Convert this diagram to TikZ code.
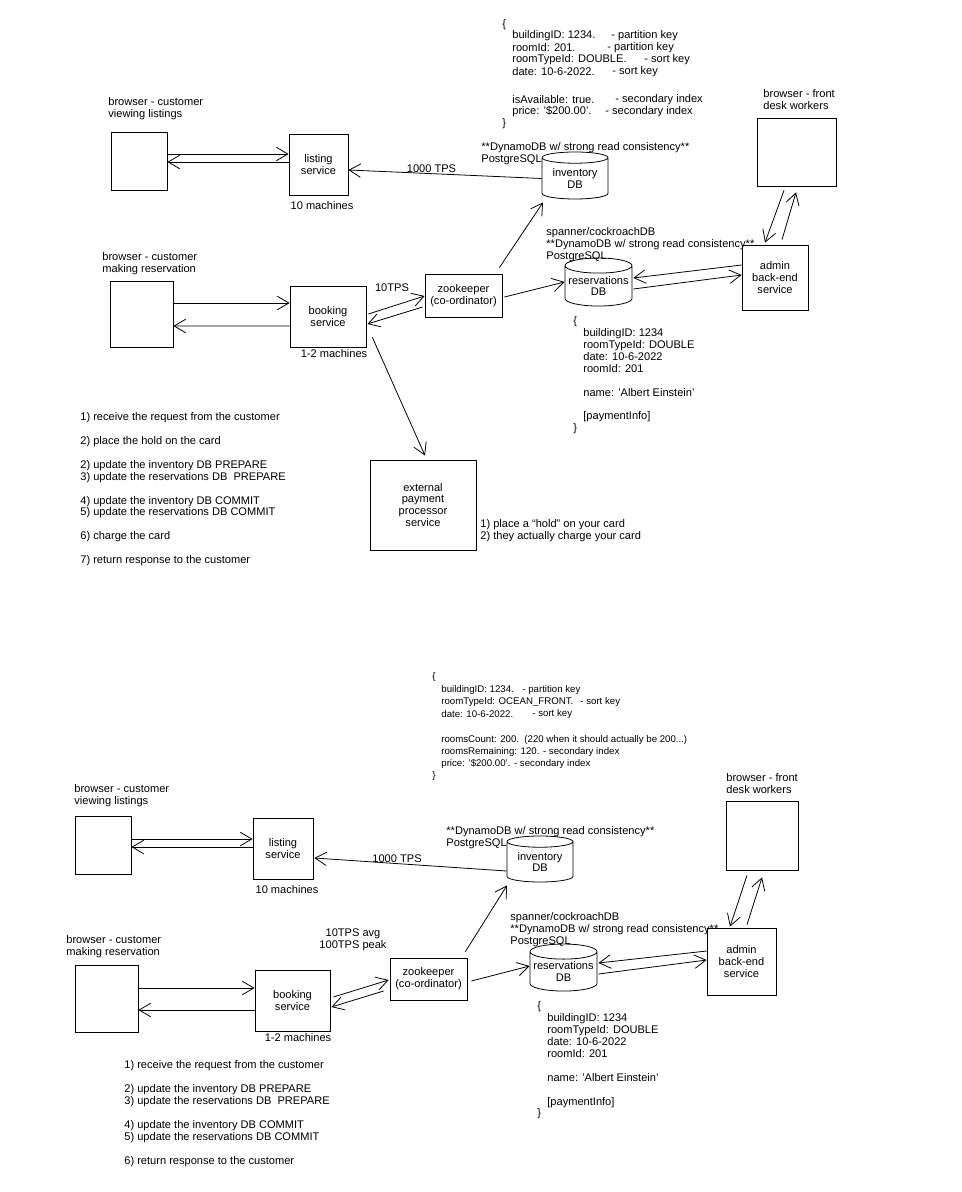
\documentclass[tikz,border=0pt]{standalone}
\usepackage{fontspec}
\setmainfont{Liberation Sans}
\usetikzlibrary{arrows.meta,shapes.geometric}
\begin{document}
\begin{tikzpicture}[x=0.02cm, y=-0.02cm, line width=0.45pt,
		font=\fontsize{6.3}{6.8}\selectfont,
		sz/.style 2 args={minimum width=#1*0.02cm, minimum height=#2*0.02cm},
		box/.style={draw, align=center, inner sep=0pt},
		db/.style={draw, cylinder, shape border rotate=90, aspect=0.25, align=center, inner sep=0pt},
		txt/.style={anchor=north west, align=left, inner sep=0pt},
		smalltxt/.style={font=\fontsize{5.5}{6.8}\selectfont},
		>={Straight Barb[length=2.3mm, width=2.7mm]}]
	\useasboundingbox[fill=white] (0,0) rectangle (962,1192);

	% ---------- first version (with card hold) ----------
	\node[box, sz={56}{58}] (brwA) at (139,161) {};
	\node[box, sz={59}{61}] (lstA) at (318.5,164.5) {listing\\service};
	\node[box, sz={63}{66}] (bkbA) at (141.5,314) {};
	\node[box, sz={76}{61}] (bkA) at (328,316.5) {booking\\service};
	\node[box, sz={77}{43}] (zkA) at (463.5,295.5) {zookeeper\\(co-ordinator)};
	\node[box, sz={106}{90}] (payA) at (423,505) {external\\payment\\processor\\service};
	\node[box, sz={79}{68}] (deskA) at (796.5,152) {};
	\node[box, sz={66}{65}] (admA) at (775,277.5) {admin\\back-end\\service};
	\node[db, sz={66}{47}] (invA) at (575,178.5) {inventory\\DB};
	\node[db, sz={67}{48}] (resA) at (598.5,286) {reservations\\DB};

	\node[txt] (brwAlbl) at (108,97) {browser - customer\\viewing listings};
	\node[txt] (bkbAlbl) at (102,252) {browser - customer\\making reservation};
	\node[txt] (deskAlbl) at (763,89) {browser - front\\desk workers};
	\node (lstAlbl) at (322,206) {10 machines};
	\node (bkAlbl) at (334,354) {1-2 machines};
	\node (tpsA) at (392,288) {10TPS};
	\node[txt] (invAlbl) at (481,142) {**DynamoDB w/ strong read consistency**\\PostgreSQL};
	\node[txt] (resAlbl) at (546,227) {spanner/cockroachDB\\**DynamoDB w/ strong read consistency**\\PostgreSQL};
	\node[txt] (payAlbl) at (480,519) {1) place a ``hold'' on your card\\2) they actually charge your card};

	% inventory item
	\node[txt] (jsonAo) at (502,19) {\{};
	\foreach \y/\k/\cx/\c in {36/{buildingID: 1234.}/611/{- partition key},
			48/{roomId: 201.}/607/{- partition key},
			60/{roomTypeId: DOUBLE.}/644/{- sort key},
			72/{date: 10-6-2022.}/612/{- sort key},
			100/{isAvailable: true.}/615/{- secondary index},
			112/{price: '\$200.00'.}/605/{- secondary index}}{
		\node[anchor=west, inner sep=0pt] (kA\y) at (512,\y) {\k};
		\node[anchor=west, inner sep=0pt] (cA\y) at (\cx,\y) {\c};}
	\node[txt] (jsonAc) at (502,118) {\}};

	% reservation item
	\node[txt] (rjsonA) at (573,316) {\{\\
		\hspace*{2mm}buildingID: 1234\\
		\hspace*{2mm}roomTypeId: DOUBLE\\
		\hspace*{2mm}date: 10-6-2022\\
		\hspace*{2mm}roomId: 201\\[6.8pt]
		\hspace*{2mm}name: 'Albert Einstein'\\[6.8pt]
		\hspace*{2mm}[paymentInfo]\\
		\}};

	\node[txt] (stepsA) at (80,412) {1) receive the request from the customer\\[6.8pt]
		2) place the hold on the card\\[6.8pt]
		2) update the inventory DB PREPARE\\
		3) update the reservations DB\ \ PREPARE\\[6.8pt]
		4) update the inventory DB COMMIT\\
		5) update the reservations DB COMMIT\\[6.8pt]
		6) charge the card\\[6.8pt]
		7) return response to the customer};

	\draw[->] ([shift={(0,-7)}]brwA.east) -- ([shift={(0,-10.5)}]lstA.west);
	\draw[->] ([shift={(0,-2.5)}]lstA.west) -- ([shift={(0,1)}]brwA.east);
	\draw[->] (invA.west) -- node[pos=0.57, anchor=south, inner sep=0.6pt] {1000 TPS} ([shift={(0,5.5)}]lstA.east);
	\draw[->] ([shift={(0,-11)}]bkbA.east) -- ([shift={(0,-13.5)}]bkA.west);
	\draw[->] ([shift={(0,9.5)}]bkA.west) -- ([shift={(0,12)}]bkbA.east);
	\draw[->] ([shift={(2,-2.5)}]bkA.east) -- ([shift={(0,0.5)}]zkA.west);
	\draw[->] ([shift={(-2,11.5)}]zkA.west) -- ([shift={(1,7.5)}]bkA.east);
	\draw[->] ([shift={(6,-10)}]bkA.south east) -- ([shift={(2,-4)}]payA.north);
	\draw[->] ([shift={(-3,-6)}]zkA.north east) -- ([shift={(-32,3)}]invA.south);
	\draw[->] ([shift={(2,1.5)}]zkA.east) -- ([shift={(0,-4)}]resA.west);
	\draw[->] ([shift={(0,-12.5)}]admA.west) -- ([shift={(1,-8)}]resA.east);
	\draw[->] ([shift={(1,3)}]resA.east) -- ([shift={(0,-2.5)}]admA.west);
	\draw[->] ([shift={(-12.5,4)}]deskA.south) -- ([shift={(-10,-2)}]admA.north);
	\draw[->] ([shift={(7,-5)}]admA.north) -- ([shift={(-0.5,6)}]deskA.south);

	% ---------- second version (room counts) ----------
	\node[box, sz={56}{58}] (brwB) at (103,845) {};
	\node[box, sz={60}{61}] (lstB) at (283,848.5) {listing\\service};
	\node[box, sz={63}{67}] (bkbB) at (106.5,998.5) {};
	\node[box, sz={75}{61}] (bkB) at (292.5,1000.5) {booking\\service};
	\node[box, sz={77}{42}] (zkB) at (428.5,979) {zookeeper\\(co-ordinator)};
	\node[box, sz={72}{69}] (deskB) at (762,835.5) {};
	\node[box, sz={69}{67}] (admB) at (741.5,961.5) {admin\\back-end\\service};
	\node[db, sz={66}{46}] (invB) at (540,862) {inventory\\DB};
	\node[db, sz={67}{47}] (resB) at (563.5,971.5) {reservations\\DB};

	\node[txt] (brwBlbl) at (74,784) {browser - customer\\viewing listings};
	\node[txt] (bkbBlbl) at (66,935) {browser - customer\\making reservation};
	\node[txt] (deskBlbl) at (726,773) {browser - front\\desk workers};
	\node (lstBlbl) at (287,890) {10 machines};
	\node (bkBlbl) at (298,1038) {1-2 machines};
	\node[align=center] (tpsB) at (353,940) {10TPS avg\\100TPS peak};
	\node[txt] (invBlbl) at (446,826) {**DynamoDB w/ strong read consistency**\\PostgreSQL};
	\node[txt] (resBlbl) at (510,912) {spanner/cockroachDB\\**DynamoDB w/ strong read consistency**\\PostgreSQL};

	% inventory counts
	\begin{scope}[smalltxt]
	\node[txt] (jsonBo) at (432,672) {\{};
	\foreach \y/\k/\cx/\c in {690/{buildingID: 1234.}/522/{- partition key},
			702/{roomTypeId: OCEAN\_FRONT.}/580/{- sort key},
			714/{date: 10-6-2022.}/532/{- sort key}}{
		\node[anchor=west, inner sep=0pt] (kB\y) at (441,\y) {\k};
		\node[anchor=west, inner sep=0pt] (cB\y) at (\cx,\y) {\c};}
	\node[txt] (jsonBl) at (441,735) {roomsCount: 200.\ \ (220 when it should actually be 200...)\\
		roomsRemaining: 120. - secondary index\\
		price: '\$200.00'. - secondary index};
	\node[txt] (jsonBc) at (432,771) {\}};
	\end{scope}

	% reservation item
	\node[txt] (rjsonB) at (537,1001) {\{\\
		\hspace*{2mm}buildingID: 1234\\
		\hspace*{2mm}roomTypeId: DOUBLE\\
		\hspace*{2mm}date: 10-6-2022\\
		\hspace*{2mm}roomId: 201\\[6.8pt]
		\hspace*{2mm}name: 'Albert Einstein'\\[6.8pt]
		\hspace*{2mm}[paymentInfo]\\
		\}};

	\node[txt] (stepsB) at (124,1060) {1) receive the request from the customer\\[6.8pt]
		2) update the inventory DB PREPARE\\
		3) update the reservations DB\ \ PREPARE\\[6.8pt]
		4) update the inventory DB COMMIT\\
		5) update the reservations DB COMMIT\\[6.8pt]
		6) return response to the customer};

	\draw[->] ([shift={(0,-6)}]brwB.east) -- ([shift={(0,-9.5)}]lstB.west);
	\draw[->] ([shift={(0,-1.5)}]lstB.west) -- ([shift={(0,2)}]brwB.east);
	\draw[->] ([shift={(0,9)}]invB.west) -- node[pos=0.57, anchor=south, inner sep=0.6pt] {1000 TPS} ([shift={(1,9.5)}]lstB.east);
	\draw[->] ([shift={(0,-10.5)}]bkbB.east) -- ([shift={(0,-12.5)}]bkB.west);
	\draw[->] ([shift={(0,9.5)}]bkB.west) -- ([shift={(0,11.5)}]bkbB.east);
	\draw[->] ([shift={(3,-3.5)}]bkB.east) -- ([shift={(-1,1)}]zkB.west);
	\draw[->] ([shift={(-6,12)}]zkB.west) -- ([shift={(1,6.5)}]bkB.east);
	\draw[->] ([shift={(-2,-6)}]zkB.north east) -- ([shift={(-33,3)}]invB.south);
	\draw[->] ([shift={(4,2)}]zkB.east) -- ([shift={(0,-5.5)}]resB.west);
	\draw[->] ([shift={(0,-10.5)}]admB.west) -- ([shift={(1,-8.5)}]resB.east);
	\draw[->] ([shift={(1,2.5)}]resB.east) -- ([shift={(0,-1.5)}]admB.west);
	\draw[->] ([shift={(-15,5)}]deskB.south) -- ([shift={(-11.5,-1)}]admB.north);
	\draw[->] ([shift={(5.5,-3)}]admB.north) -- ([shift={(0,7)}]deskB.south);
\end{tikzpicture}
\end{document}
